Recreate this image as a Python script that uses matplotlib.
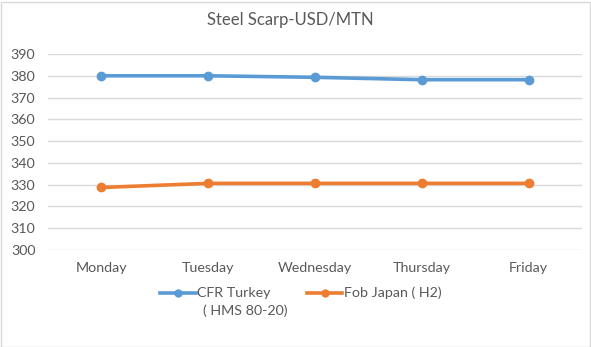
import matplotlib
matplotlib.use("Agg")
import matplotlib.pyplot as plt
from matplotlib.lines import Line2D
from matplotlib.patches import Rectangle

days = ["Monday", "Tuesday", "Wednesday", "Thursday", "Friday"]
cfr_turkey = [380, 380, 379.3, 378.2, 378.2]
fob_japan = [328.7, 330.6, 330.6, 330.6, 330.6]
yticks = [300, 310, 320, 330, 340, 350, 360, 370, 380, 390]
title = "Steel Scarp-USD/MTN"
label1 = "CFR Turkey"
label1b = "( HMS 80-20)"
label2 = "Fob Japan ( H2)"

blue = "#5B9BD5"
orange = "#ED7D31"
txt = "#595959"
plt.rcParams["font.family"] = ["Lato", "DejaVu Sans"]

fig = plt.figure(figsize=(5.91, 3.47), dpi=100)
ax = fig.add_axes([48/591, 1-250/347, (582-48)/591, (250-54)/347])

x = list(range(len(days)))
ax.plot(x, cfr_turkey, color=blue, lw=2.6, marker="o", ms=6, zorder=3)
ax.plot(x, fob_japan, color=orange, lw=2.6, marker="o", ms=6, zorder=3)

ax.set_xlim(-0.5, len(days) - 0.5)
ax.set_ylim(300, 390)
ax.set_yticks(yticks)
ax.set_xticks(x)
ax.set_xticklabels(days)
ax.grid(axis="y", color="#D9D9D9", lw=1)
ax.set_axisbelow(True)
for s in ax.spines.values():
    s.set_visible(False)
ax.tick_params(length=0, colors=txt, labelsize=10.3)
ax.tick_params(axis="x", pad=9)
ax.tick_params(axis="y", pad=9)

fig.text(290/591, 1-20/347, title, ha="center", va="center", fontsize=12, color=txt)

# legend
y1 = 1 - 293/347
fig.add_artist(Line2D([160/591, 196/591], [y1, y1], color=blue, lw=2.6, transform=fig.transFigure))
fig.add_artist(Line2D([178/591], [y1], color=blue, marker="o", ms=5, transform=fig.transFigure))
fig.text(197/591, y1, label1, ha="left", va="center", fontsize=10.3, color=txt)
fig.text(203/591, 1 - 311/347, label1b, ha="left", va="center", fontsize=10.3, color=txt)
fig.add_artist(Line2D([307/591, 342/591], [y1, y1], color=orange, lw=2.6, transform=fig.transFigure))
fig.add_artist(Line2D([324.5/591], [y1], color=orange, marker="o", ms=5, transform=fig.transFigure))
fig.text(344/591, y1, label2, ha="left", va="center", fontsize=10.3, color=txt)

fig.add_artist(Rectangle((0.5/591, 0.5/347), 589/591, 345/347, fill=False,
                         edgecolor="#D9D9D9", lw=1, transform=fig.transFigure))

fig.savefig("out.png", dpi=100)
